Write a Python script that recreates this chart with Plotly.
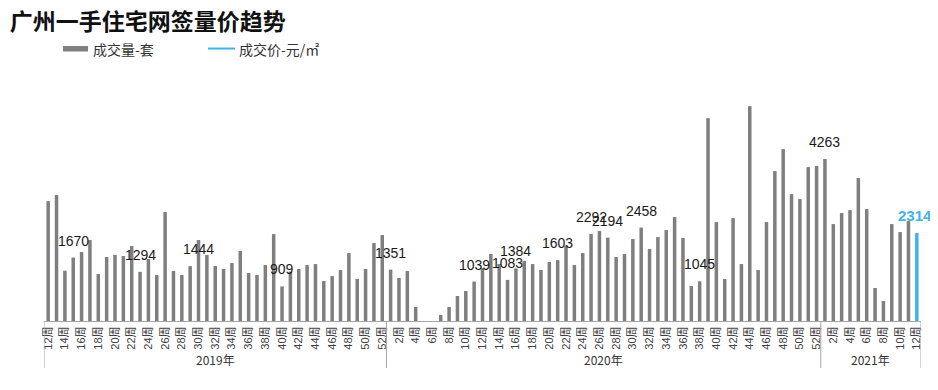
import plotly.graph_objects as go

# ---------------- data ----------------
weeks_2019 = list(range(12, 53))
weeks_2020 = list(range(1, 53))
weeks_2021 = list(range(1, 13))

vol_2019 = [3156, 3314, 1324, 1670, 1815, 2130, 1236, 1683, 1736, 1709, 1973,
            1294, 1631, 1210, 2867, 1315, 1210, 1444, 2130, 1736, 1447, 1368,
            1525, 1841, 1262, 1210, 1473, 2288, 909, 1300, 1368, 1473, 1499,
            1052, 1183, 1341, 1788, 1105, 1368, 2051, 2262]
vol_2020 = [1351, 1131, 1315, 368, 0, 0, 158, 368, 658, 789, 1039, 1394, 1762,
            1500, 1083, 1384, 1578, 1499, 1341, 1552, 1603, 1985, 1473, 1788,
            2292, 2367, 2194, 1683, 1762, 2157, 2458, 1894, 2209, 2393, 2735,
            2183, 920, 1045, 5339, 2604, 1105, 2709, 1499, 5655, 1341, 2604,
            3945, 4524, 3340, 3209, 4050, 4077]
vol_2021 = [4263, 2551, 2840, 2919, 3761, 2946, 868, 526, 2551, 2341, 2630, 2314]

years = ["2019年", "2020年", "2021年"]

# data labels shown on the chart (week key, label value)
label_keys = [("2019年", 15), ("2019年", 23), ("2019年", 30), ("2019年", 40),
              ("2020年", 1), ("2020年", 11), ("2020年", 15), ("2020年", 16),
              ("2020年", 21), ("2020年", 25), ("2020年", 27), ("2020年", 31),
              ("2020年", 38), ("2021年", 1)]
label_vals = [1670, 1294, 1444, 909, 1351, 1039, 1083, 1384, 1603, 2292, 2194,
              2458, 1045, 4263]
last_label = 2314

# ---------------- build ----------------
keys = ([("2019年", w) for w in weeks_2019] + [("2020年", w) for w in weeks_2020]
        + [("2021年", w) for w in weeks_2021])
values = vol_2019 + vol_2020 + vol_2021
n = len(values)
xs = list(range(n))
pos = {k: i for i, k in enumerate(keys)}

GRAY = "#7F7F7F"
CYAN = "#3DB5E6"
colors = [GRAY] * (n - 1) + [CYAN]

fig = go.Figure()
fig.add_trace(go.Bar(x=xs, y=values, marker=dict(color=colors, line=dict(width=0)),
                     showlegend=False, hoverinfo="y"))

tickvals = [i for i, k in enumerate(keys) if k[1] % 2 == 0]
ticktext = [f"{keys[i][1]}周" for i in tickvals]

LAT = "Liberation Sans, Arial, Noto Sans CJK SC, sans-serif"
CJK = "Noto Sans CJK SC, Liberation Sans, sans-serif"

annotations = []
for k, v in zip(label_keys, label_vals):
    annotations.append(dict(x=pos[k], y=v, xref="x", yref="y", text=str(v),
                            showarrow=False, yanchor="bottom", yshift=7,
                            font=dict(family=LAT, size=14, color="#1a1a1a")))
annotations.append(dict(x=n - 1, y=last_label, xref="x", yref="y",
                        text=f"<b>{last_label}</b>", showarrow=False,
                        yanchor="bottom", yshift=7, xshift=-2,
                        font=dict(family=LAT, size=15, color=CYAN)))

# year group labels and separators
shapes = []
bounds = [-0.5]
for y in years:
    idx = [i for i, k in enumerate(keys) if k[0] == y]
    bounds.append(idx[-1] + 0.5)
    annotations.append(dict(x=(idx[0] + idx[-1]) / 2, y=-0.171, xref="x", yref="paper",
                            text=y, showarrow=False, yanchor="middle",
                            font=dict(family=CJK, size=12, color="#333333")))
for b in bounds:
    shapes.append(dict(type="line", xref="x", yref="paper", x0=b, x1=b,
                       y0=0, y1=-0.206, line=dict(color="#A6A6A6", width=1)))

# manual legend
shapes.append(dict(type="rect", xref="paper", yref="paper", x0=0.0217, x1=0.0502,
                   y0=1.182, y1=1.206, fillcolor=GRAY, line=dict(width=0)))
shapes.append(dict(type="line", xref="paper", yref="paper", x0=0.187, x1=0.2178,
                   y0=1.195, y1=1.195, line=dict(color=CYAN, width=2)))
annotations.append(dict(x=0.0536, y=1.194, xref="paper", yref="paper",
                        text="成交量-套", showarrow=False, xanchor="left",
                        yanchor="middle", font=dict(family=CJK, size=14, color="#333333")))
annotations.append(dict(x=0.2201, y=1.194, xref="paper", yref="paper",
                        text="成交价-元/㎡", showarrow=False, xanchor="left",
                        yanchor="middle", font=dict(family=CJK, size=14, color="#333333")))

# the page body adds an 8px offset, so the figure is sized to fill the rest
fig.update_layout(
    width=930, height=382, autosize=False,
    margin=dict(l=36, r=17, t=85, b=69),
    paper_bgcolor="white", plot_bgcolor="white",
    bargap=0.58,
    title=dict(text="<b>广州一手住宅网签量价趋势</b>", x=0.002, xanchor="left",
               xref="container", y=1 - 13.5 / 382, yanchor="middle", yref="container",
               font=dict(family=CJK, size=23, color="#111111")),
    xaxis=dict(range=[-0.5, n - 0.5], tickmode="array", tickvals=tickvals,
               ticktext=ticktext, tickangle=-90, showgrid=False, zeroline=False,
               showline=True, linecolor="#A6A6A6", linewidth=1, ticks="",
               tickfont=dict(family=LAT, size=11, color="#404040")),
    yaxis=dict(range=[0, 6000], visible=False, showgrid=False, zeroline=False),
    shapes=shapes, annotations=annotations,
)

fig.write_html("out.html")
